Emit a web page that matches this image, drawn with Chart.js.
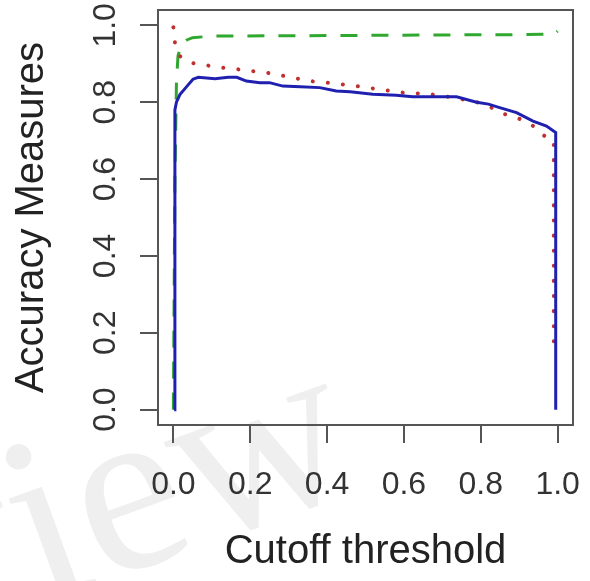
<!DOCTYPE html>
<html><head><meta charset="utf-8">
<script src="https://cdn.jsdelivr.net/npm/chart.js@4.4.1/dist/chart.umd.min.js"></script>
<style>html,body{margin:0;padding:0;background:#fff;} canvas{display:block;}</style>
</head><body>
<canvas id="c" width="590" height="581"></canvas>
<script>
const xTickValues = [0, 0.2, 0.4, 0.6, 0.8, 1.0];
const yTickValues = [0, 0.2, 0.4, 0.6, 0.8, 1.0];
const xTitle = 'Cutoff threshold';
const yTitle = 'Accuracy Measures';

// Blue solid series
const blueX = [0.002, 0.004, 0.008, 0.017, 0.034, 0.051, 0.065, 0.108, 0.143, 0.165, 0.19, 0.225, 0.25, 0.285, 0.33, 0.381, 0.424, 0.46, 0.519, 0.58, 0.623, 0.68, 0.737, 0.789, 0.82, 0.849, 0.893, 0.936, 0.971, 0.995, 0.995];
const blueY = [0.0, 0.78, 0.80, 0.82, 0.84, 0.86, 0.865, 0.861, 0.865, 0.865, 0.855, 0.851, 0.851, 0.842, 0.840, 0.838, 0.829, 0.827, 0.821, 0.818, 0.814, 0.814, 0.814, 0.80, 0.795, 0.786, 0.773, 0.751, 0.738, 0.721, 0.0];

// Red dotted series
const redX = [0.0, 0.004, 0.017, 0.043, 0.086, 0.125, 0.165, 0.203, 0.242, 0.30, 0.355, 0.42, 0.476, 0.54, 0.597, 0.667, 0.73, 0.79, 0.83, 0.862, 0.894, 0.934, 0.966, 0.99, 0.99];
const redY = [0.995, 0.955, 0.92, 0.903, 0.896, 0.89, 0.886, 0.881, 0.877, 0.866, 0.855, 0.849, 0.842, 0.833, 0.825, 0.821, 0.812, 0.80, 0.785, 0.769, 0.76, 0.74, 0.712, 0.70, 0.17];

// Green dashed series
const greenX = [0.0, 0.004, 0.008, 0.012, 0.02, 0.035, 0.05, 0.1, 0.3, 0.5, 0.7, 0.9, 0.99, 1.0];
const greenY = [0.0, 0.6, 0.85, 0.92, 0.95, 0.962, 0.968, 0.972, 0.973, 0.974, 0.975, 0.976, 0.977, 0.985];

const pts = (xs, ys) => xs.map((x, i) => ({x, y: ys[i]}));
const FAMILY = "'Liberation Sans', Arial, sans-serif";
const AXIS_COLOR = '#555';
const LABEL_COLOR = '#333';

const decor = {
  id: 'decor',
  beforeDraw(chart) {
    const ctx = chart.ctx;
    ctx.save();
    ctx.fillStyle = '#fff';
    ctx.fillRect(0, 0, chart.width, chart.height);
    ctx.translate(-74, 646);
    ctx.rotate(-20 * Math.PI / 180);
    ctx.font = "240px 'Liberation Serif', serif";
    ctx.fillStyle = '#efefef';
    ctx.textBaseline = 'alphabetic';
    ctx.fillText('view', 0, 0);
    ctx.restore();
  },
  afterDraw(chart) {
    const {ctx, chartArea: a, scales} = chart;
    ctx.save();
    ctx.strokeStyle = AXIS_COLOR;
    ctx.lineWidth = 2;
    ctx.strokeRect(a.left, a.top, a.right - a.left, a.bottom - a.top);
    ctx.fillStyle = LABEL_COLOR;
    ctx.font = '32px ' + FAMILY;
    ctx.textAlign = 'center';
    ctx.textBaseline = 'middle';
    yTickValues.forEach(v => {
      const py = scales.y.getPixelForValue(v);
      ctx.save();
      ctx.translate(106, py);
      ctx.rotate(-Math.PI / 2);
      ctx.fillText(v.toFixed(1), 0, 0);
      ctx.restore();
    });
    ctx.restore();
  }
};

new Chart(document.getElementById('c'), {
  type: 'line',
  data: {
    datasets: [
      {label: 'Accuracy', data: pts(blueX, blueY), borderColor: '#2020b0', borderWidth: 3, pointRadius: 0, tension: 0, order: 0, fill: false},
      {label: 'Specificity', data: pts(redX, redY), borderColor: '#c03030', borderWidth: 4, borderDash: [0.1, 15], borderCapStyle: 'round', pointRadius: 0, tension: 0, order: 1, fill: false},
      {label: 'Sensitivity', data: pts(greenX, greenY), borderColor: '#30a830', borderWidth: 3, borderDash: [17, 14], pointRadius: 0, tension: 0, order: 2, fill: false}
    ]
  },
  options: {
    responsive: false,
    animation: false,
    devicePixelRatio: 1,
    layout: {padding: {top: 10, right: 17, left: 0, bottom: 0}},
    plugins: {legend: {display: false}, tooltip: {enabled: false}},
    scales: {
      x: {
        type: 'linear', min: -0.04, max: 1.04,
        afterBuildTicks: s => { s.ticks = xTickValues.map(v => ({value: v})); },
        afterFit: s => { s.height = 156; s.paddingLeft = 0; s.paddingRight = 0; },
        grid: {drawOnChartArea: false, drawTicks: true, tickLength: 18, color: AXIS_COLOR, lineWidth: 2},
        border: {display: false},
        ticks: {color: LABEL_COLOR, font: {family: FAMILY, size: 32}, padding: 23, maxRotation: 0, autoSkip: false, callback: v => Number(v).toFixed(1)},
        title: {display: true, text: xTitle, color: '#222', font: {family: FAMILY, size: 40}, padding: {top: 0, bottom: 5}}
      },
      y: {
        type: 'linear', min: -0.04, max: 1.04,
        afterBuildTicks: s => { s.ticks = yTickValues.map(v => ({value: v})); },
        afterFit: s => { s.width = 158; s.paddingTop = 0; s.paddingBottom = 0; },
        grid: {drawOnChartArea: false, drawTicks: true, tickLength: 18, color: AXIS_COLOR, lineWidth: 2},
        border: {display: false},
        ticks: {display: false},
        title: {display: true, text: yTitle, color: '#222', font: {family: FAMILY, size: 40}, padding: {top: 8, bottom: 0}}
      }
    }
  },
  plugins: [decor]
});
</script>
</body></html>
